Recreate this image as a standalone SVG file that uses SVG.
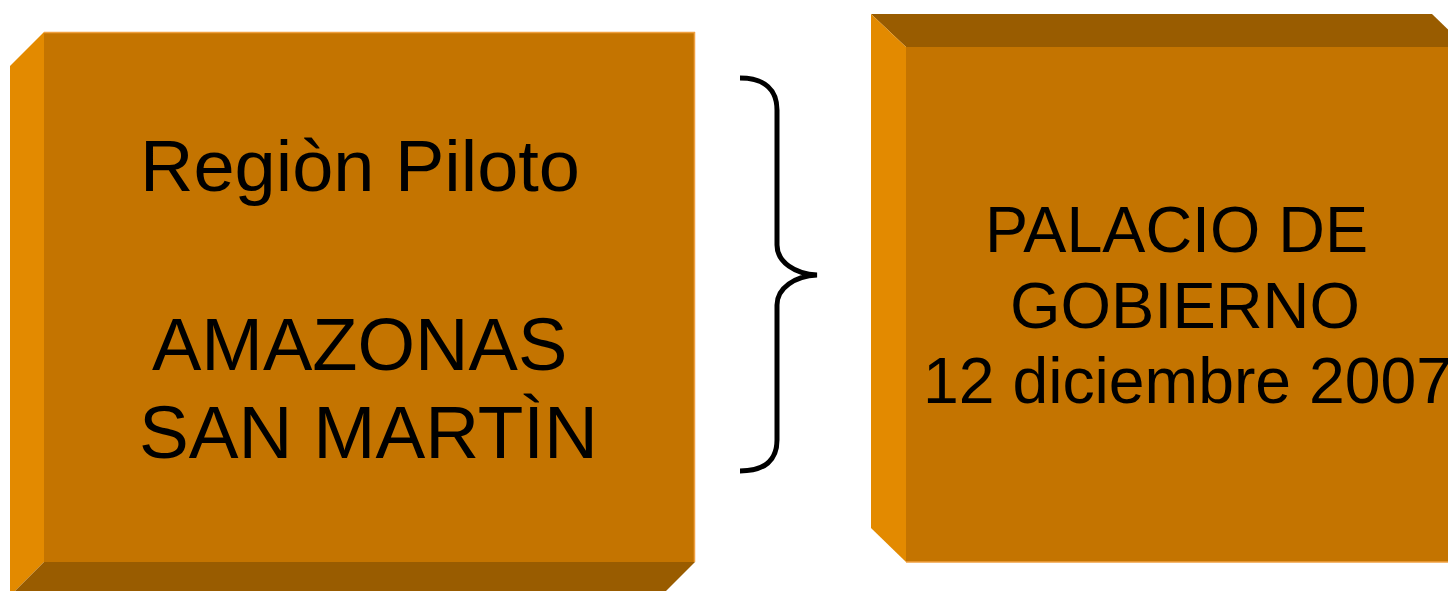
<svg xmlns="http://www.w3.org/2000/svg" width="1448" height="591" viewBox="0 0 1448 591">
<style>
.front{fill:#C47400}
.light{fill:#E38A00}
.dark{fill:#995C00}
.hl{stroke:#F0A040;stroke-width:1.5;fill:none}
.t{font-family:"Liberation Sans",Arial,sans-serif;fill:#000}
.brace{fill:none;stroke:#000;stroke-width:5;stroke-linecap:butt}
</style>
<rect width="1448" height="591" fill="#FFFFFF"/>
<g id="node-left">
<rect class="front" x="44" y="32" width="651" height="530"/>
<polygon class="light" points="10,66 44,32 44,562 10,596"/>
<polygon class="dark" points="44,562 695,562 661,596 10,596"/>
<line class="hl" x1="44" y1="32.5" x2="695" y2="32.5"/>
<line class="hl" x1="694.5" y1="32" x2="694.5" y2="562"/>
<text class="t" x="140" y="191" font-size="73" textLength="440" lengthAdjust="spacingAndGlyphs">Regiòn Piloto</text>
<text class="t" x="152" y="370" font-size="74">AMAZONAS</text>
<text class="t" x="139" y="458" font-size="74" textLength="459" lengthAdjust="spacingAndGlyphs">SAN MARTÌN</text>
</g>
<g id="node-right">
<rect class="front" x="906" y="47" width="560" height="515"/>
<polygon class="dark" points="871,14 1432,14 1466,47 906,47"/>
<polygon class="light" points="871,14 906,47 906,562 871,528"/>
<line class="hl" x1="906" y1="562" x2="1448" y2="562"/>
<text class="t" x="985" y="252" font-size="64" textLength="383" lengthAdjust="spacingAndGlyphs">PALACIO DE</text>
<text class="t" x="1010" y="328" font-size="64" textLength="350" lengthAdjust="spacingAndGlyphs">GOBIERNO</text>
<text class="t" x="923" y="403" font-size="64" textLength="529" lengthAdjust="spacingAndGlyphs">12 diciembre 2007</text>
</g>
<g id="connectors">
<path class="brace" d="M740,78 C765,78 777,90 777,110 L777,245 C777,262 795,274 817,275 C795,276 777,288 777,305 L777,440 C777,460 765,471 740,471"/>
</g>
</svg>
